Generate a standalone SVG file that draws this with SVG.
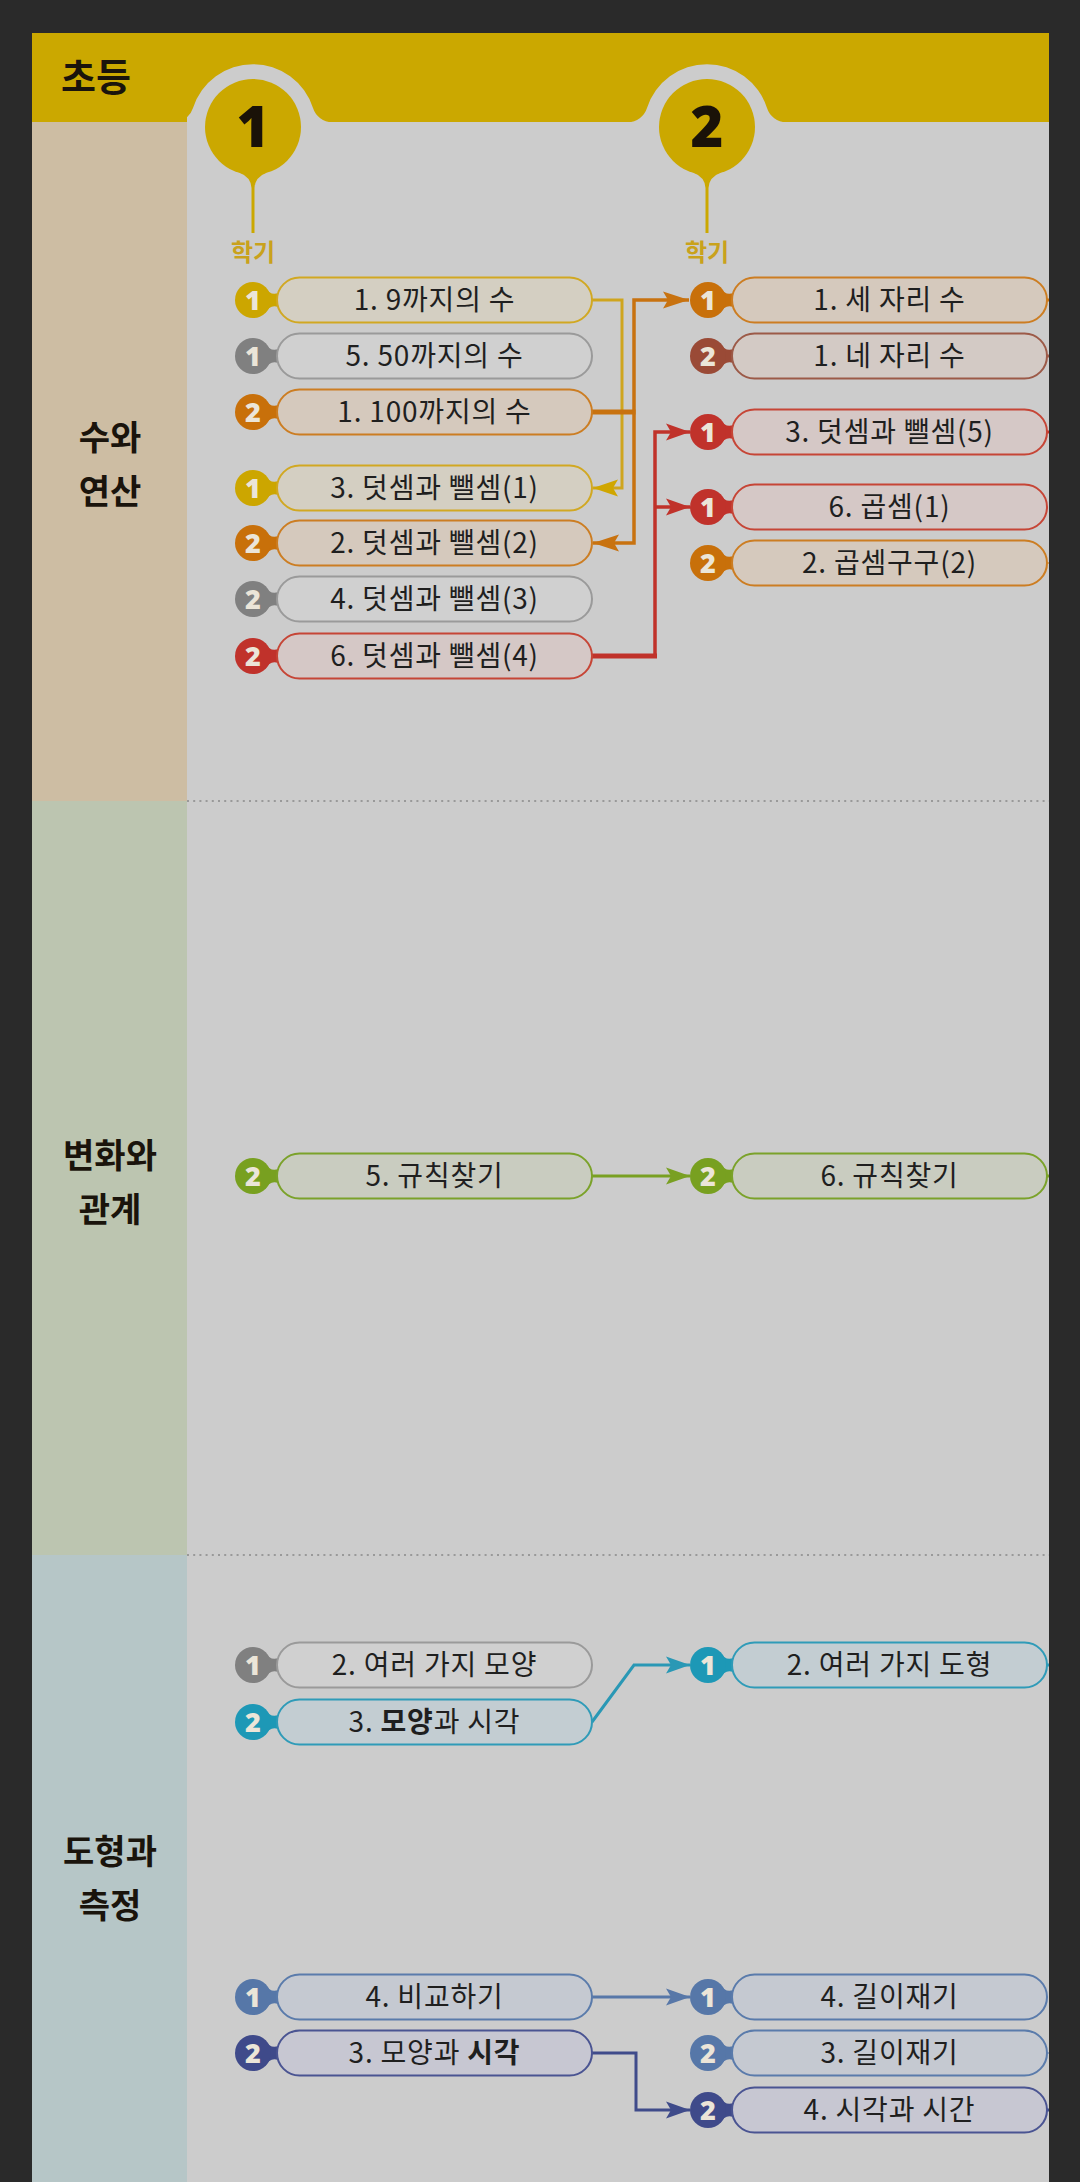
<svg xmlns="http://www.w3.org/2000/svg" width="1080" height="2182" viewBox="0 0 1080 2182">
<defs>
<style>
.pill{stroke-width:2}
.lbl{font-family:"Noto Sans CJK KR","Noto Sans",sans-serif;font-size:28px;letter-spacing:0.8px;fill:#1f1f1f;text-anchor:middle}
.num{font-family:"Noto Sans","Roboto",sans-serif;font-weight:900;font-size:27px;fill:#ebe5d8;text-anchor:middle}
.cat{font-family:"Noto Sans CJK KR",sans-serif;font-weight:700;font-size:34px;fill:#1a140c;text-anchor:middle}
.sem{font-family:"Noto Sans","Roboto",sans-serif;font-weight:900;font-size:56px;fill:#1a1208;text-anchor:middle}
.hk{font-family:"Noto Sans CJK KR",sans-serif;font-weight:700;font-size:24px;fill:#c9a21c;text-anchor:middle}
.y .pill{fill:#d4cfc2;stroke:#d1a822}.y .bd{fill:#cca600}
.g .pill{fill:#d0d0d0;stroke:#9a9a9a}.g .bd{fill:#808080}
.o .pill{fill:#d5c9bd;stroke:#cc7d22}.o .bd{fill:#c8700a}
.r .pill{fill:#d5c8c6;stroke:#c64536}.r .bd{fill:#c0322b}
.b .pill{fill:#d3cac5;stroke:#9c5a48}.b .bd{fill:#9a4a36}
.gr .pill{fill:#c9ccc0;stroke:#7ba22a}.gr .bd{fill:#78a020}
.t .pill{fill:#c3cdd2;stroke:#2f9bb8}.t .bd{fill:#1d98b6}
.s .pill{fill:#c5c9d1;stroke:#5a7bab}.s .bd{fill:#5677a8}
.i .pill{fill:#c7c7d2;stroke:#4a5492}.i .bd{fill:#3f4a8a}
.cn{fill:none;stroke-linejoin:miter}
</style>
<clipPath id="panel"><rect x="32" y="33" width="1017" height="2149"/></clipPath>
<clipPath id="hdr"><rect x="187" y="33" width="862" height="100"/></clipPath>
<marker id="aY" viewBox="-27 -10 28 20" refX="0" refY="0" markerWidth="28" markerHeight="20" markerUnits="userSpaceOnUse" orient="auto"><path d="M0,0 L-25,-8.5 L-20,0 L-25,8.5 Z" fill="#d0a600"/></marker>
<marker id="aO" viewBox="-27 -10 28 20" refX="0" refY="0" markerWidth="28" markerHeight="20" markerUnits="userSpaceOnUse" orient="auto"><path d="M0,0 L-26,-8.5 L-21,0 L-26,8.5 Z" fill="#c8720f"/></marker>
<marker id="aR" viewBox="-27 -10 28 20" refX="0" refY="0" markerWidth="28" markerHeight="20" markerUnits="userSpaceOnUse" orient="auto"><path d="M0,0 L-24,-8.5 L-19,0 L-24,8.5 Z" fill="#c0322a"/></marker>
<marker id="aG" viewBox="-27 -10 28 20" refX="0" refY="0" markerWidth="28" markerHeight="20" markerUnits="userSpaceOnUse" orient="auto"><path d="M0,0 L-24,-8.5 L-19,0 L-24,8.5 Z" fill="#79a022"/></marker>
<marker id="aT" viewBox="-27 -10 28 20" refX="0" refY="0" markerWidth="28" markerHeight="20" markerUnits="userSpaceOnUse" orient="auto"><path d="M0,0 L-24,-8.5 L-19,0 L-24,8.5 Z" fill="#2a98b5"/></marker>
<marker id="aS" viewBox="-27 -10 28 20" refX="0" refY="0" markerWidth="28" markerHeight="20" markerUnits="userSpaceOnUse" orient="auto"><path d="M0,0 L-24,-8.5 L-19,0 L-24,8.5 Z" fill="#5777a8"/></marker>
<marker id="aI" viewBox="-27 -10 28 20" refX="0" refY="0" markerWidth="28" markerHeight="20" markerUnits="userSpaceOnUse" orient="auto"><path d="M0,0 L-24,-8.5 L-19,0 L-24,8.5 Z" fill="#3f4b8a"/></marker>
</defs>

<rect x="0" y="0" width="1080" height="2182" fill="#2a2a2a"/>

<g id="background" clip-path="url(#panel)">
<rect x="32" y="33" width="1017" height="2149" fill="#cccccc"/>
<rect x="32" y="33" width="1017" height="89" fill="#cba800"/>
<rect x="32" y="122" width="155" height="679" fill="#cdbda3"/>
<rect x="32" y="801" width="155" height="754" fill="#bcc5b0"/>
<rect x="32" y="1555" width="155" height="627" fill="#b6c6c7"/>
<g clip-path="url(#hdr)" fill="#cccccc">
<path d="M173.9,122 A20,20 0 0 0 193,108 A63,63 0 0 1 313,108 A20,20 0 0 0 332.1,122 Z"/>
<path d="M627.9,122 A20,20 0 0 0 647,108 A63,63 0 0 1 767,108 A20,20 0 0 0 786.1,122 Z"/>
</g>
<line x1="187" y1="801" x2="1049" y2="801" stroke="#999999" stroke-width="2.2" stroke-dasharray="2 4.2"/>
<line x1="187" y1="1555" x2="1049" y2="1555" stroke="#999999" stroke-width="2.2" stroke-dasharray="2 4.2"/>
</g>

<g id="header-title">
<text x="96" y="91" font-family="Noto Sans CJK KR, sans-serif" font-weight="700" font-size="38" fill="#1a140c" text-anchor="middle">초등</text>
</g>

<g id="semester-1">
<circle cx="253" cy="127" r="48" fill="#cba800"/>
<path d="M239,172.5 Q251,177 251.5,188 L251.5,233 L254.5,233 L254.5,188 Q255,177 267,172.5 Z" fill="#cba800"/>
<text class="sem" x="253" y="147">1</text>
<text class="hk" x="253" y="261">학기</text>
</g>
<g id="semester-2">
<circle cx="707" cy="127" r="48" fill="#cba800"/>
<path d="M693,172.5 Q705,177 705.5,188 L705.5,233 L708.5,233 L708.5,188 Q709,177 721,172.5 Z" fill="#cba800"/>
<text class="sem" x="707" y="147">2</text>
<text class="hk" x="707" y="261">학기</text>
</g>

<g id="categories">
<text class="cat" x="110" y="450">수와</text>
<text class="cat" x="110" y="504">연산</text>
<text class="cat" x="110" y="1168">변화와</text>
<text class="cat" x="110" y="1222">관계</text>
<text class="cat" x="110" y="1864">도형과</text>
<text class="cat" x="110" y="1918">측정</text>
</g>

<g id="connectors" class="cn" clip-path="url(#panel)">
<path d="M592,300 H622 V488 H593" stroke="#cfa51e" stroke-width="3" marker-end="url(#aY)"/>
<path d="M592,412 H635.5" stroke="#c8720f" stroke-width="5"/>
<path d="M634,412 V300 H689" stroke="#c8720f" stroke-width="3.5" marker-end="url(#aO)"/>
<path d="M634,412 V543 H593" stroke="#c8720f" stroke-width="3.5" marker-end="url(#aO)"/>
<path d="M592,656 H657" stroke="#c0322a" stroke-width="5"/>
<path d="M655,658 V432 H690" stroke="#c0322a" stroke-width="3.5" marker-end="url(#aR)"/>
<path d="M655,507 H690" stroke="#c0322a" stroke-width="3.5" marker-end="url(#aR)"/>
<path d="M592,1176 H690" stroke="#79a022" stroke-width="3" marker-end="url(#aG)"/>
<path d="M592,1722 L634,1665 H690" stroke="#2a98b5" stroke-width="3" marker-end="url(#aT)"/>
<path d="M592,1997 H690" stroke="#5777a8" stroke-width="3" marker-end="url(#aS)"/>
<path d="M592,2053 H636 V2110 H690" stroke="#3f4b8a" stroke-width="3" marker-end="url(#aI)"/>
<line x1="1046" y1="300" x2="1056" y2="300" stroke="#c8720f" stroke-width="3"/>
<line x1="1046" y1="356" x2="1056" y2="356" stroke="#9c5a48" stroke-width="3"/>
<line x1="1046" y1="432" x2="1056" y2="432" stroke="#c0322a" stroke-width="3"/>
<path d="M1047,563 L1072,555 L1072,571 Z" fill="#c8720f"/>
<line x1="1046" y1="1176" x2="1056" y2="1176" stroke="#79a022" stroke-width="3"/>
<line x1="1046" y1="1665" x2="1056" y2="1665" stroke="#2a98b5" stroke-width="3"/>
<path d="M1047,2053 L1072,2045 L1072,2061 Z" fill="#5777a8"/>
<line x1="1046" y1="2110" x2="1056" y2="2110" stroke="#3f4b8a" stroke-width="3"/>
</g>

<g id="n1" class="y" transform="translate(253,300)"><path class="bd" d="M12,-13 Q19,-1 30,-10 L30,10 Q19,1 12,13 Z"/><rect class="pill" x="24" y="-22.5" width="315" height="45" rx="22.5"/><circle class="bd" r="18"/><text class="num" y="9.5">1</text><text class="lbl" x="181.5" y="10">1. 9까지의 수</text></g>
<g id="n2" class="g" transform="translate(253,356)"><path class="bd" d="M12,-13 Q19,-1 30,-10 L30,10 Q19,1 12,13 Z"/><rect class="pill" x="24" y="-22.5" width="315" height="45" rx="22.5"/><circle class="bd" r="18"/><text class="num" y="9.5">1</text><text class="lbl" x="181.5" y="10">5. 50까지의 수</text></g>
<g id="n3" class="o" transform="translate(253,412)"><path class="bd" d="M12,-13 Q19,-1 30,-10 L30,10 Q19,1 12,13 Z"/><rect class="pill" x="24" y="-22.5" width="315" height="45" rx="22.5"/><circle class="bd" r="18"/><text class="num" y="9.5">2</text><text class="lbl" x="181.5" y="10">1. 100까지의 수</text></g>
<g id="n4" class="y" transform="translate(253,488)"><path class="bd" d="M12,-13 Q19,-1 30,-10 L30,10 Q19,1 12,13 Z"/><rect class="pill" x="24" y="-22.5" width="315" height="45" rx="22.5"/><circle class="bd" r="18"/><text class="num" y="9.5">1</text><text class="lbl" x="181.5" y="10">3. 덧셈과 뺄셈(1)</text></g>
<g id="n5" class="o" transform="translate(253,543)"><path class="bd" d="M12,-13 Q19,-1 30,-10 L30,10 Q19,1 12,13 Z"/><rect class="pill" x="24" y="-22.5" width="315" height="45" rx="22.5"/><circle class="bd" r="18"/><text class="num" y="9.5">2</text><text class="lbl" x="181.5" y="10">2. 덧셈과 뺄셈(2)</text></g>
<g id="n6" class="g" transform="translate(253,599)"><path class="bd" d="M12,-13 Q19,-1 30,-10 L30,10 Q19,1 12,13 Z"/><rect class="pill" x="24" y="-22.5" width="315" height="45" rx="22.5"/><circle class="bd" r="18"/><text class="num" y="9.5">2</text><text class="lbl" x="181.5" y="10">4. 덧셈과 뺄셈(3)</text></g>
<g id="n7" class="r" transform="translate(253,656)"><path class="bd" d="M12,-13 Q19,-1 30,-10 L30,10 Q19,1 12,13 Z"/><rect class="pill" x="24" y="-22.5" width="315" height="45" rx="22.5"/><circle class="bd" r="18"/><text class="num" y="9.5">2</text><text class="lbl" x="181.5" y="10">6. 덧셈과 뺄셈(4)</text></g>

<g id="n8" class="o" transform="translate(708,300)"><path class="bd" d="M12,-13 Q19,-1 30,-10 L30,10 Q19,1 12,13 Z"/><rect class="pill" x="24" y="-22.5" width="315" height="45" rx="22.5"/><circle class="bd" r="18"/><text class="num" y="9.5">1</text><text class="lbl" x="181.5" y="10">1. 세 자리 수</text></g>
<g id="n9" class="b" transform="translate(708,356)"><path class="bd" d="M12,-13 Q19,-1 30,-10 L30,10 Q19,1 12,13 Z"/><rect class="pill" x="24" y="-22.5" width="315" height="45" rx="22.5"/><circle class="bd" r="18"/><text class="num" y="9.5">2</text><text class="lbl" x="181.5" y="10">1. 네 자리 수</text></g>
<g id="n10" class="r" transform="translate(708,432)"><path class="bd" d="M12,-13 Q19,-1 30,-10 L30,10 Q19,1 12,13 Z"/><rect class="pill" x="24" y="-22.5" width="315" height="45" rx="22.5"/><circle class="bd" r="18"/><text class="num" y="9.5">1</text><text class="lbl" x="181.5" y="10">3. 덧셈과 뺄셈(5)</text></g>
<g id="n11" class="r" transform="translate(708,507)"><path class="bd" d="M12,-13 Q19,-1 30,-10 L30,10 Q19,1 12,13 Z"/><rect class="pill" x="24" y="-22.5" width="315" height="45" rx="22.5"/><circle class="bd" r="18"/><text class="num" y="9.5">1</text><text class="lbl" x="181.5" y="10">6. 곱셈(1)</text></g>
<g id="n12" class="o" transform="translate(708,563)"><path class="bd" d="M12,-13 Q19,-1 30,-10 L30,10 Q19,1 12,13 Z"/><rect class="pill" x="24" y="-22.5" width="315" height="45" rx="22.5"/><circle class="bd" r="18"/><text class="num" y="9.5">2</text><text class="lbl" x="181.5" y="10">2. 곱셈구구(2)</text></g>

<g id="n13" class="gr" transform="translate(253,1176)"><path class="bd" d="M12,-13 Q19,-1 30,-10 L30,10 Q19,1 12,13 Z"/><rect class="pill" x="24" y="-22.5" width="315" height="45" rx="22.5"/><circle class="bd" r="18"/><text class="num" y="9.5">2</text><text class="lbl" x="181.5" y="10">5. 규칙찾기</text></g>
<g id="n14" class="gr" transform="translate(708,1176)"><path class="bd" d="M12,-13 Q19,-1 30,-10 L30,10 Q19,1 12,13 Z"/><rect class="pill" x="24" y="-22.5" width="315" height="45" rx="22.5"/><circle class="bd" r="18"/><text class="num" y="9.5">2</text><text class="lbl" x="181.5" y="10">6. 규칙찾기</text></g>

<g id="n15" class="g" transform="translate(253,1665)"><path class="bd" d="M12,-13 Q19,-1 30,-10 L30,10 Q19,1 12,13 Z"/><rect class="pill" x="24" y="-22.5" width="315" height="45" rx="22.5"/><circle class="bd" r="18"/><text class="num" y="9.5">1</text><text class="lbl" x="181.5" y="10">2. 여러 가지 모양</text></g>
<g id="n16" class="t" transform="translate(253,1722)"><path class="bd" d="M12,-13 Q19,-1 30,-10 L30,10 Q19,1 12,13 Z"/><rect class="pill" x="24" y="-22.5" width="315" height="45" rx="22.5"/><circle class="bd" r="18"/><text class="num" y="9.5">2</text><text class="lbl" x="181.5" y="10">3. <tspan font-weight="700">모양</tspan>과 시각</text></g>
<g id="n17" class="t" transform="translate(708,1665)"><path class="bd" d="M12,-13 Q19,-1 30,-10 L30,10 Q19,1 12,13 Z"/><rect class="pill" x="24" y="-22.5" width="315" height="45" rx="22.5"/><circle class="bd" r="18"/><text class="num" y="9.5">1</text><text class="lbl" x="181.5" y="10">2. 여러 가지 도형</text></g>
<g id="n18" class="s" transform="translate(253,1997)"><path class="bd" d="M12,-13 Q19,-1 30,-10 L30,10 Q19,1 12,13 Z"/><rect class="pill" x="24" y="-22.5" width="315" height="45" rx="22.5"/><circle class="bd" r="18"/><text class="num" y="9.5">1</text><text class="lbl" x="181.5" y="10">4. 비교하기</text></g>
<g id="n19" class="i" transform="translate(253,2053)"><path class="bd" d="M12,-13 Q19,-1 30,-10 L30,10 Q19,1 12,13 Z"/><rect class="pill" x="24" y="-22.5" width="315" height="45" rx="22.5"/><circle class="bd" r="18"/><text class="num" y="9.5">2</text><text class="lbl" x="181.5" y="10">3. 모양과 <tspan font-weight="700">시각</tspan></text></g>
<g id="n20" class="s" transform="translate(708,1997)"><path class="bd" d="M12,-13 Q19,-1 30,-10 L30,10 Q19,1 12,13 Z"/><rect class="pill" x="24" y="-22.5" width="315" height="45" rx="22.5"/><circle class="bd" r="18"/><text class="num" y="9.5">1</text><text class="lbl" x="181.5" y="10">4. 길이재기</text></g>
<g id="n21" class="s" transform="translate(708,2053)"><path class="bd" d="M12,-13 Q19,-1 30,-10 L30,10 Q19,1 12,13 Z"/><rect class="pill" x="24" y="-22.5" width="315" height="45" rx="22.5"/><circle class="bd" r="18"/><text class="num" y="9.5">2</text><text class="lbl" x="181.5" y="10">3. 길이재기</text></g>
<g id="n22" class="i" transform="translate(708,2110)"><path class="bd" d="M12,-13 Q19,-1 30,-10 L30,10 Q19,1 12,13 Z"/><rect class="pill" x="24" y="-22.5" width="315" height="45" rx="22.5"/><circle class="bd" r="18"/><text class="num" y="9.5">2</text><text class="lbl" x="181.5" y="10">4. 시각과 시간</text></g>
</svg>
